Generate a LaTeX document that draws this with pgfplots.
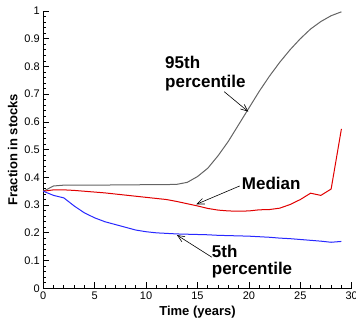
\documentclass[border=0pt]{standalone}
\usepackage{fontspec}
\setmainfont{Liberation Sans}
\usepackage{pgfplots}
\pgfplotsset{compat=1.18}
\usetikzlibrary{arrows.meta}
\definecolor{cgray}{RGB}{100,100,100}
\definecolor{cred}{RGB}{225,0,0}
\definecolor{cblue}{RGB}{40,40,255}
\begin{document}
\begin{tikzpicture}
\begin{axis}[
 scale only axis, width=308.4pt, height=277.3pt,
 xmin=0,xmax=30,ymin=0,ymax=1,
 axis lines*=left,
 axis line style={line width=0.9pt},
 tick align=inside,
 major tick length=6pt, minor tick length=3pt,
 xtick={0,5,10,15,20,25,30},
 ytick={0,0.1,0.2,0.3,0.4,0.5,0.6,0.7,0.8,0.9,1},
 minor x tick num=4, minor y tick num=4,
 every tick/.style={black, line width=0.8pt},
 /pgf/number format/assume math mode=true,
 tick label style={font=\fontsize{11}{12}\selectfont},
 xlabel={Time (years)}, ylabel={Fraction in stocks},
 label style={font=\fontsize{13}{14}\selectfont\bfseries},
 clip=false,
]
\addplot[cgray, line width=1pt] coordinates {
(0,0.35) (1,0.369) (2,0.372) (3,0.372) (4,0.372) (5,0.372) (6,0.372) (7,0.373) (8,0.373) (9,0.373) (10,0.374) (11,0.374) (12,0.374) (13,0.375) (14,0.382) (15,0.403) (16,0.433) (17,0.478) (18,0.530) (19,0.590) (20,0.650) (21,0.710) (22,0.765) (23,0.815) (24,0.860) (25,0.900) (26,0.935) (27,0.962) (28,0.983) (29,0.997)
};
\addplot[cred, line width=1pt] coordinates {
(0,0.35) (1,0.355) (2,0.355) (3,0.353) (4,0.350) (5,0.347) (6,0.344) (7,0.340) (8,0.336) (9,0.332) (10,0.328) (11,0.324) (12,0.320) (13,0.313) (14,0.305) (15,0.297) (16,0.288) (17,0.282) (18,0.279) (19,0.278) (20,0.279) (21,0.283) (22,0.284) (23,0.289) (24,0.302) (25,0.320) (26,0.343) (27,0.335) (28,0.358) (29,0.575)
};
\addplot[cblue, line width=1pt] coordinates {
(0,0.35) (1,0.335) (2,0.326) (3,0.297) (4,0.272) (5,0.254) (6,0.240) (7,0.230) (8,0.220) (9,0.210) (10,0.204) (11,0.200) (12,0.198) (13,0.196) (14,0.195) (15,0.194) (16,0.193) (17,0.191) (18,0.190) (19,0.189) (20,0.188) (21,0.186) (22,0.184) (23,0.181) (24,0.179) (25,0.176) (26,0.173) (27,0.170) (28,0.166) (29,0.169)
};
\node[anchor=north west, inner sep=0pt, align=left, font=\fontsize{17}{19}\selectfont\bfseries] at (axis cs:11.84,0.839) {95th\\percentile};
\node[anchor=base west, inner sep=0pt, font=\fontsize{17}{19}\selectfont\bfseries] at (axis cs:19.3,0.357) {Median};
\node[anchor=north west, inner sep=0pt, align=left, font=\fontsize{17}{17}\selectfont\bfseries] at (axis cs:16.38,0.158) {5th\\percentile};
\draw[-{Straight Barb[length=7pt,width=6pt]}, line width=0.6pt] (axis cs:17.6,0.709) -- (axis cs:19.94,0.637);
\draw[-{Straight Barb[length=7pt,width=6pt]}, line width=0.6pt] (axis cs:19.1,0.369) -- (axis cs:14.9,0.303);
\draw[-{Straight Barb[length=7pt,width=6pt]}, line width=0.6pt] (axis cs:16.4,0.112) -- (axis cs:13.0,0.192);
\end{axis}
\pgfresetboundingbox
\path (-43.3pt,-31.7pt) rectangle (312.7pt,288.3pt);
\end{tikzpicture}
\end{document}
